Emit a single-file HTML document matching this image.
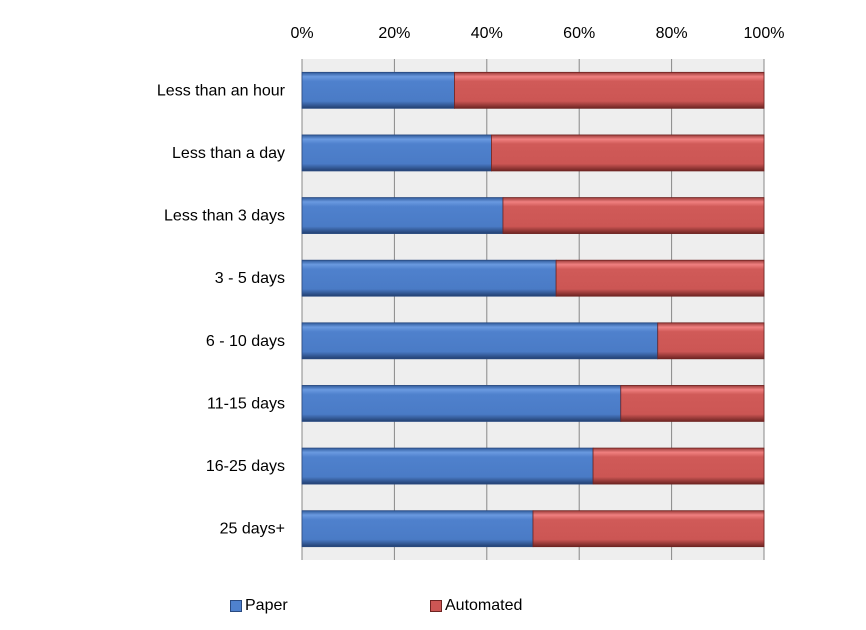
<!DOCTYPE html>
<html><head><meta charset="utf-8"><style>
body{margin:0;background:#fff;}
svg text{font-family:"Liberation Sans",sans-serif;font-size:16px;fill:#000;}
</style></head><body>
<svg width="866" height="625" xmlns="http://www.w3.org/2000/svg">
<defs>
<linearGradient id="gb" x1="0" y1="0" x2="0" y2="1">
<stop offset="0" stop-color="#2f5a9a"/><stop offset="0.12" stop-color="#6a9ae0"/><stop offset="0.25" stop-color="#4f81cd"/><stop offset="0.8" stop-color="#4a7bc6"/><stop offset="1" stop-color="#223f70"/></linearGradient>
<linearGradient id="gr" x1="0" y1="0" x2="0" y2="1">
<stop offset="0" stop-color="#9a3a38"/><stop offset="0.12" stop-color="#f08080"/><stop offset="0.25" stop-color="#d05a58"/><stop offset="0.8" stop-color="#cc5654"/><stop offset="1" stop-color="#6e2422"/></linearGradient>
</defs>
<g id="chart"></g>
</svg>
<script>
const categories=["Less than an hour","Less than a day","Less than 3 days","3 - 5 days","6 - 10 days","11-15 days","16-25 days","25 days+"];
const paper=[33,41,43.5,55,77,69,63,50];
const automated=[67,59,56.5,45,23,31,37,50];
const ticks=["0%","20%","40%","60%","80%","100%"];
const tickVals=[0,20,40,60,80,100];
const X0=302,X1=764,Y0=59,Y1=560;
const ns="http://www.w3.org/2000/svg";
const g=document.getElementById('chart');
function x(v){return X0+(X1-X0)*v/100;}
const band=(Y1-Y0)/categories.length;
function yc(i){return Y0+band*(i+0.5);}
function el(t,a){const e=document.createElementNS(ns,t);for(const k in a)e.setAttribute(k,a[k]);g.appendChild(e);return e;}
const bg=el('rect',{x:X0,y:Y0,width:X1-X0,height:Y1-Y0,fill:'#eeeeee'});


tickVals.forEach((v,i)=>{
 const l=el('line',{x1:x(v),x2:x(v),y1:Y0,y2:Y1,stroke:'#888','stroke-width':1});
 
 
 const t=el('text',{x:x(v),y:38,'text-anchor':'middle'});t.textContent=ticks[i];
 
 
});
const bh=36;
categories.forEach((c,i)=>{
 const y=yc(i)-bh/2;
 const tot=paper[i]+automated[i];
 const pw=x(paper[i]/tot*100)-X0;
 const b1=el('rect',{x:X0,y:y,width:pw,height:bh,fill:'url(#gb)',stroke:'#2a4a80','stroke-width':0.8});
 
 
 const b2=el('rect',{x:X0+pw,y:y,width:x(100)-X0-pw,height:bh,fill:'url(#gr)',stroke:'#6e2422','stroke-width':0.8});
 
 
 const t=el('text',{x:285,y:yc(i)+5,'text-anchor':'end'});t.textContent=c;
 
 
});
</script>
<div style="position:absolute;left:230px;top:597px;font:16px 'Liberation Sans',sans-serif;display:flex;align-items:center;"><span style="display:inline-block;width:10px;height:10px;background:#4f81cd;margin-right:3px;border:1px solid #2a4a80"></span>Paper</div>
<div style="position:absolute;left:430px;top:597px;font:16px 'Liberation Sans',sans-serif;display:flex;align-items:center;"><span style="display:inline-block;width:10px;height:10px;background:#cc5654;margin-right:3px;border:1px solid #6e2422"></span>Automated</div>
</body></html>
